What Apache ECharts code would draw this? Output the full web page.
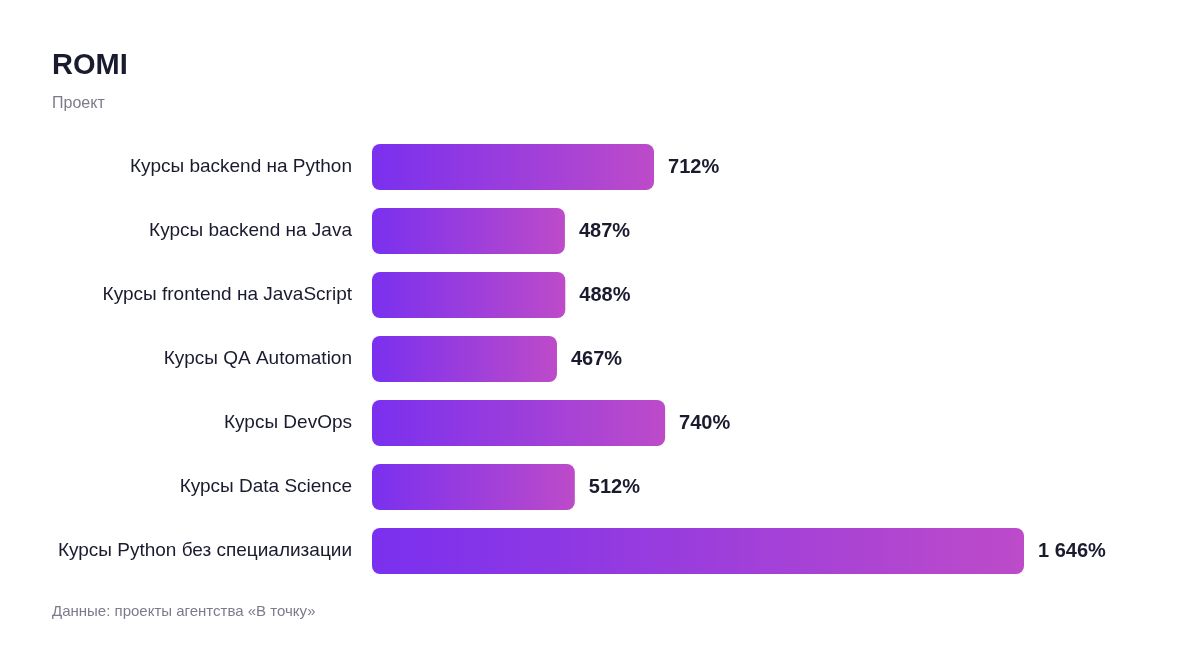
<!DOCTYPE html>
<html>
<head>
<meta charset="utf-8">
<script src="https://cdn.jsdelivr.net/npm/echarts@6/dist/echarts.min.js"></script>
<style>
  html, body { margin: 0; padding: 0; background: #fff; }
  #chart { width: 1200px; height: 648px; }
</style>
</head>
<body>
<div id="chart"></div>
<script>
// ROMI по проектам
var categories = [
  'Курсы backend на Python',
  'Курсы backend на Java',
  'Курсы frontend на JavaScript',
  'Курсы QA Automation',
  'Курсы DevOps',
  'Курсы Data Science',
  'Курсы Python без специализации'
];
var romi = [712, 487, 488, 467, 740, 512, 1646];

var font = '"Liberation Sans", Arial, Helvetica, sans-serif';

function fmt(v) {
  return String(v).replace(/\B(?=(\d{3})+(?!\d))/g, ' ') + '%';
}

var chart = echarts.init(document.getElementById('chart'));
var option = {
  backgroundColor: '#ffffff',
  animation: false,
  textStyle: { fontFamily: font },
  title: [
    {
      text: 'ROMI',
      left: 52, top: 51, padding: 0,
      textStyle: { fontFamily: font, fontSize: 29, fontWeight: 'bold', color: '#1a1b2e' }
    },
    {
      text: 'Проект',
      left: 52, top: 96, padding: 0,
      textStyle: { fontFamily: font, fontSize: 16, fontWeight: 'normal', color: '#7b7b8c' }
    },
    {
      text: 'Данные: проекты агентства «В точку»',
      left: 52, top: 604, padding: 0,
      textStyle: { fontFamily: font, fontSize: 15, fontWeight: 'normal', color: '#7b7b8c' }
    }
  ],
  grid: { left: 372, right: 176, top: 135, bottom: 65, containLabel: false },
  xAxis: {
    type: 'value',
    min: 0,
    max: 1646,
    show: false
  },
  yAxis: {
    type: 'category',
    inverse: true,
    data: categories,
    axisLine: { show: false },
    axisTick: { show: false },
    axisLabel: {
      margin: 20, padding: [4, 0, 0, 0],
      fontFamily: font, fontSize: 19, color: '#1a1b2e'
    }
  },
  series: [
    {
      type: 'bar',
      data: romi,
      barWidth: 46,
      itemStyle: {
        borderRadius: 8,
        color: new echarts.graphic.LinearGradient(0, 0, 1, 0, [
          { offset: 0, color: '#7a30ef' },
          { offset: 1, color: '#bd4bc9' }
        ])
      },
      label: {
        show: true,
        position: 'right',
        distance: 14,
        padding: [2, 0, 0, 0],
        fontFamily: font,
        fontSize: 20,
        fontWeight: 'bold',
        color: '#1a1b2e',
        formatter: function (p) { return fmt(p.value); }
      }
    }
  ]
};
chart.setOption(option);
window.addEventListener('resize', chart.resize);
</script>
</body>
</html>
